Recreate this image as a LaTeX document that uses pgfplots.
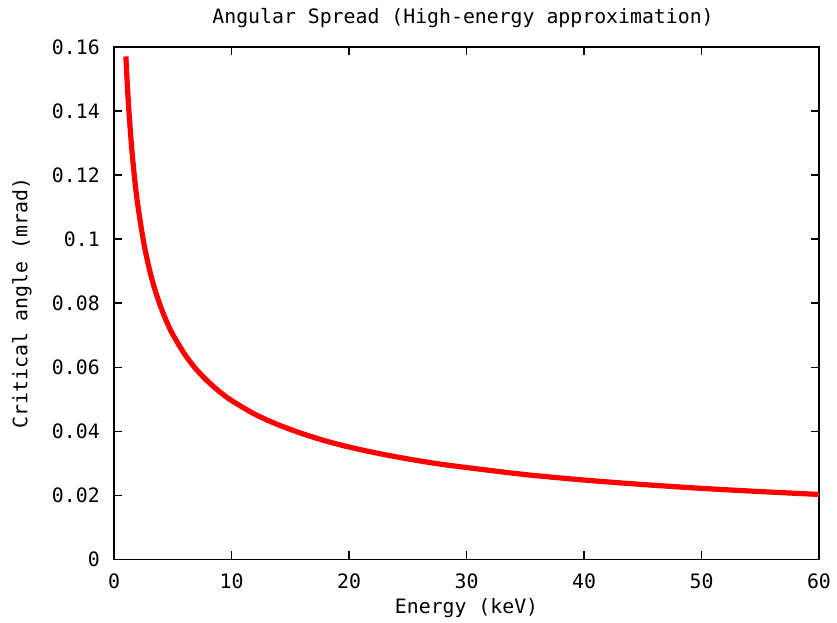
\documentclass[border=0pt]{standalone}
\usepackage{fontspec}
\setmainfont{DejaVu Sans Mono}
\usepackage{pgfplots}
\pgfplotsset{compat=1.18}
\begin{document}
\fontsize{9.9}{12}\selectfont
\begin{tikzpicture}
\begin{axis}[
  scale only axis,
  width=352pt, height=256pt,
  xmin=0, xmax=60, ymin=0, ymax=0.16,
  xtick={0,10,...,60},
  ytick={0,0.02,...,0.16},
  scaled y ticks=false,
  /pgf/number format/assume math mode=true,
  yticklabel style={/pgf/number format/fixed,/pgf/number format/precision=2, inner sep=0pt, anchor=east, xshift=-7pt},
  xticklabel style={inner sep=0pt, anchor=north, yshift=-7pt},
  tick align=inside,
  major tick length=4pt,
  tick style={black, line width=0.7pt},
  axis line style={black, line width=0.8pt},
  every axis title shift=0pt,
  title={Angular Spread (High-energy approximation)},
  title style={at={(axis description cs:0.495,1.056)}, anchor=center, inner sep=0pt},
  xlabel={Energy (keV)},
  xlabel style={at={(axis description cs:0.5,-0.0945)}, anchor=center, inner sep=0pt},
  ylabel={Critical angle (mrad)},
  ylabel style={at={(axis description cs:-0.1307,0.5)}, anchor=center, rotate=0, inner sep=0pt},
]
\addplot[red, line width=2.6pt, smooth, line join=round] coordinates {
(1,0.1570) (1.1,0.1497) (1.25,0.1404) (1.5,0.1282) (1.75,0.1187) (2,0.1110)
(2.5,0.0993) (3,0.0906) (3.5,0.0839) (4,0.0785) (4.5,0.0740) (5,0.0702)
(6,0.0641) (7,0.0593) (8,0.0555) (9,0.0523) (10,0.0496) (12,0.0453)
(14,0.0420) (16,0.0393) (18,0.0370) (20,0.0351) (22.5,0.0331) (25,0.0314)
(27.5,0.0299) (30,0.0287) (35,0.0265) (40,0.0248) (45,0.0234) (50,0.0222)
(55,0.0212) (60,0.0203)
};
\end{axis}
\pgfresetboundingbox
\path (current axis.south west) ++(-57pt,-31.7pt) coordinate (bl);
\path (current axis.north east) ++(9pt,23.4pt) coordinate (tr);
\useasboundingbox (bl) rectangle (tr);
\end{tikzpicture}
\end{document}
